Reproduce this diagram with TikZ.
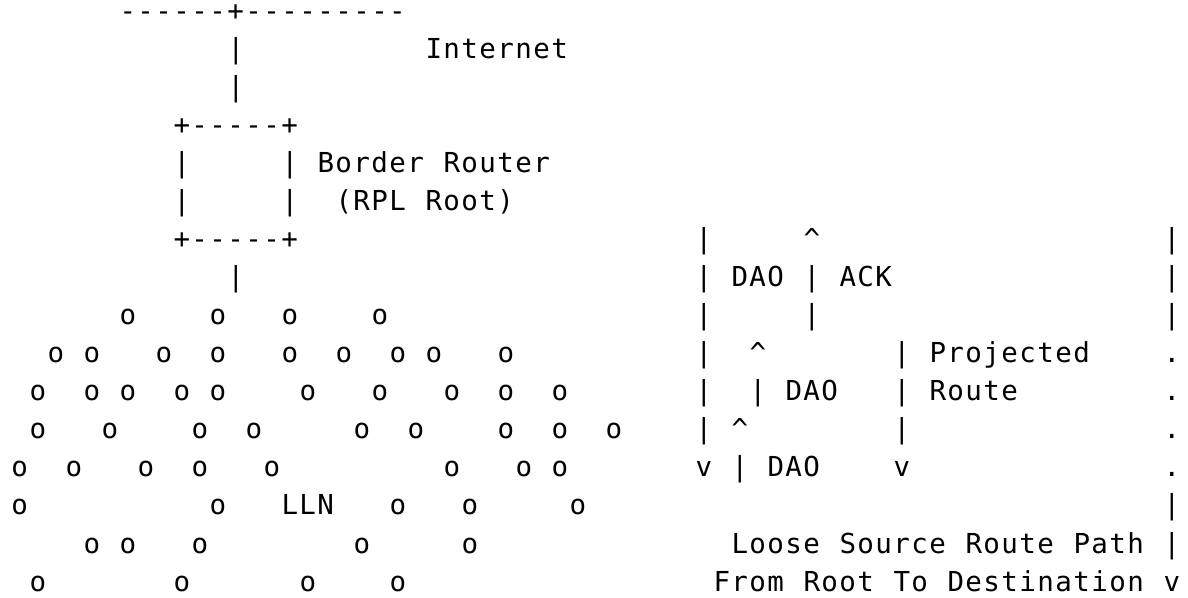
\documentclass[tikz,border=0pt]{standalone}
\usepackage{fontspec}
\setmonofont{DejaVu Sans Mono}[LetterSpace=5.2]
\newcommand\tk[4]{\node[txt] (#1) at ({11.5+18*#2},{576-38*#3}) {#4};}
\newcommand\orow[2]{\foreach \c in {#2} {\tk{o#1-\c}{\c}{#1}{o}}}
\begin{document}
\begin{tikzpicture}[x=1pt,y=1pt,
  txt/.style={anchor=base west,inner sep=0pt,outer sep=0pt,text=black,
    font=\ttfamily\fontsize{27.5}{30}\selectfont}]
\fill[white] (0,0) rectangle (1188,597);
\useasboundingbox (0,0) rectangle (1188,597);
% top / internet
\tk{top}{6}{0}{------+---------}
\tk{p1}{12}{1}{|}
\tk{inet}{23}{1}{Internet}
\tk{p2}{12}{2}{|}
% border router box
\tk{boxtop}{9}{3}{+-----+}
\tk{bl4}{9}{4}{|}
\tk{br4}{15}{4}{|}
\tk{border}{17}{4}{Border}
\tk{router}{24}{4}{Router}
\tk{bl5}{9}{5}{|}
\tk{br5}{15}{5}{|}
\tk{rpl}{18}{5}{(RPL}
\tk{rroot}{23}{5}{Root)}
\tk{boxbot}{9}{6}{+-----+}
\tk{a6}{38}{6}{|}
\tk{b6}{44}{6}{\textasciicircum}
\tk{c6}{64}{6}{|}
\tk{p7}{12}{7}{|}
\tk{a7}{38}{7}{|}
\tk{dao7}{40}{7}{DAO}
\tk{b7}{44}{7}{|}
\tk{ack}{46}{7}{ACK}
\tk{c7}{64}{7}{|}
% LLN rows
\orow{8}{6,11,15,20}
\tk{a8}{38}{8}{|}
\tk{b8}{44}{8}{|}
\tk{c8}{64}{8}{|}
\orow{9}{2,4,8,11,15,18,21,23,27}
\tk{a9}{38}{9}{|}
\tk{b9}{41}{9}{\textasciicircum}
\tk{d9}{49}{9}{|}
\tk{proj}{51}{9}{Projected}
\tk{c9}{64}{9}{.}
\orow{10}{1,4,6,9,11,16,20,24,27,30}
\tk{a10}{38}{10}{|}
\tk{b10}{41}{10}{|}
\tk{dao10}{43}{10}{DAO}
\tk{d10}{49}{10}{|}
\tk{route}{51}{10}{Route}
\tk{c10}{64}{10}{.}
\orow{11}{1,5,10,13,19,22,27,30,33}
\tk{a11}{38}{11}{|}
\tk{b11}{40}{11}{\textasciicircum}
\tk{d11}{49}{11}{|}
\tk{c11}{64}{11}{.}
\orow{12}{0,3,7,10,14,24,28,30}
\tk{a12}{38}{12}{v}
\tk{b12}{40}{12}{|}
\tk{dao12}{42}{12}{DAO}
\tk{d12}{49}{12}{v}
\tk{c12}{64}{12}{.}
\orow{13}{0,11,21,25,31}
\tk{lln}{15}{13}{LLN}
\tk{c13}{64}{13}{|}
\orow{14}{4,6,10,19,25}
\tk{loose}{40}{14}{Loose}
\tk{source}{46}{14}{Source}
\tk{route14}{53}{14}{Route}
\tk{path}{59}{14}{Path}
\tk{c14}{64}{14}{|}
\orow{15}{1,9,16,21}
\tk{from}{39}{15}{From}
\tk{root15}{44}{15}{Root}
\tk{to}{49}{15}{To}
\tk{dest}{52}{15}{Destination}
\tk{c15}{64}{15}{v}
\end{tikzpicture}
\end{document}
